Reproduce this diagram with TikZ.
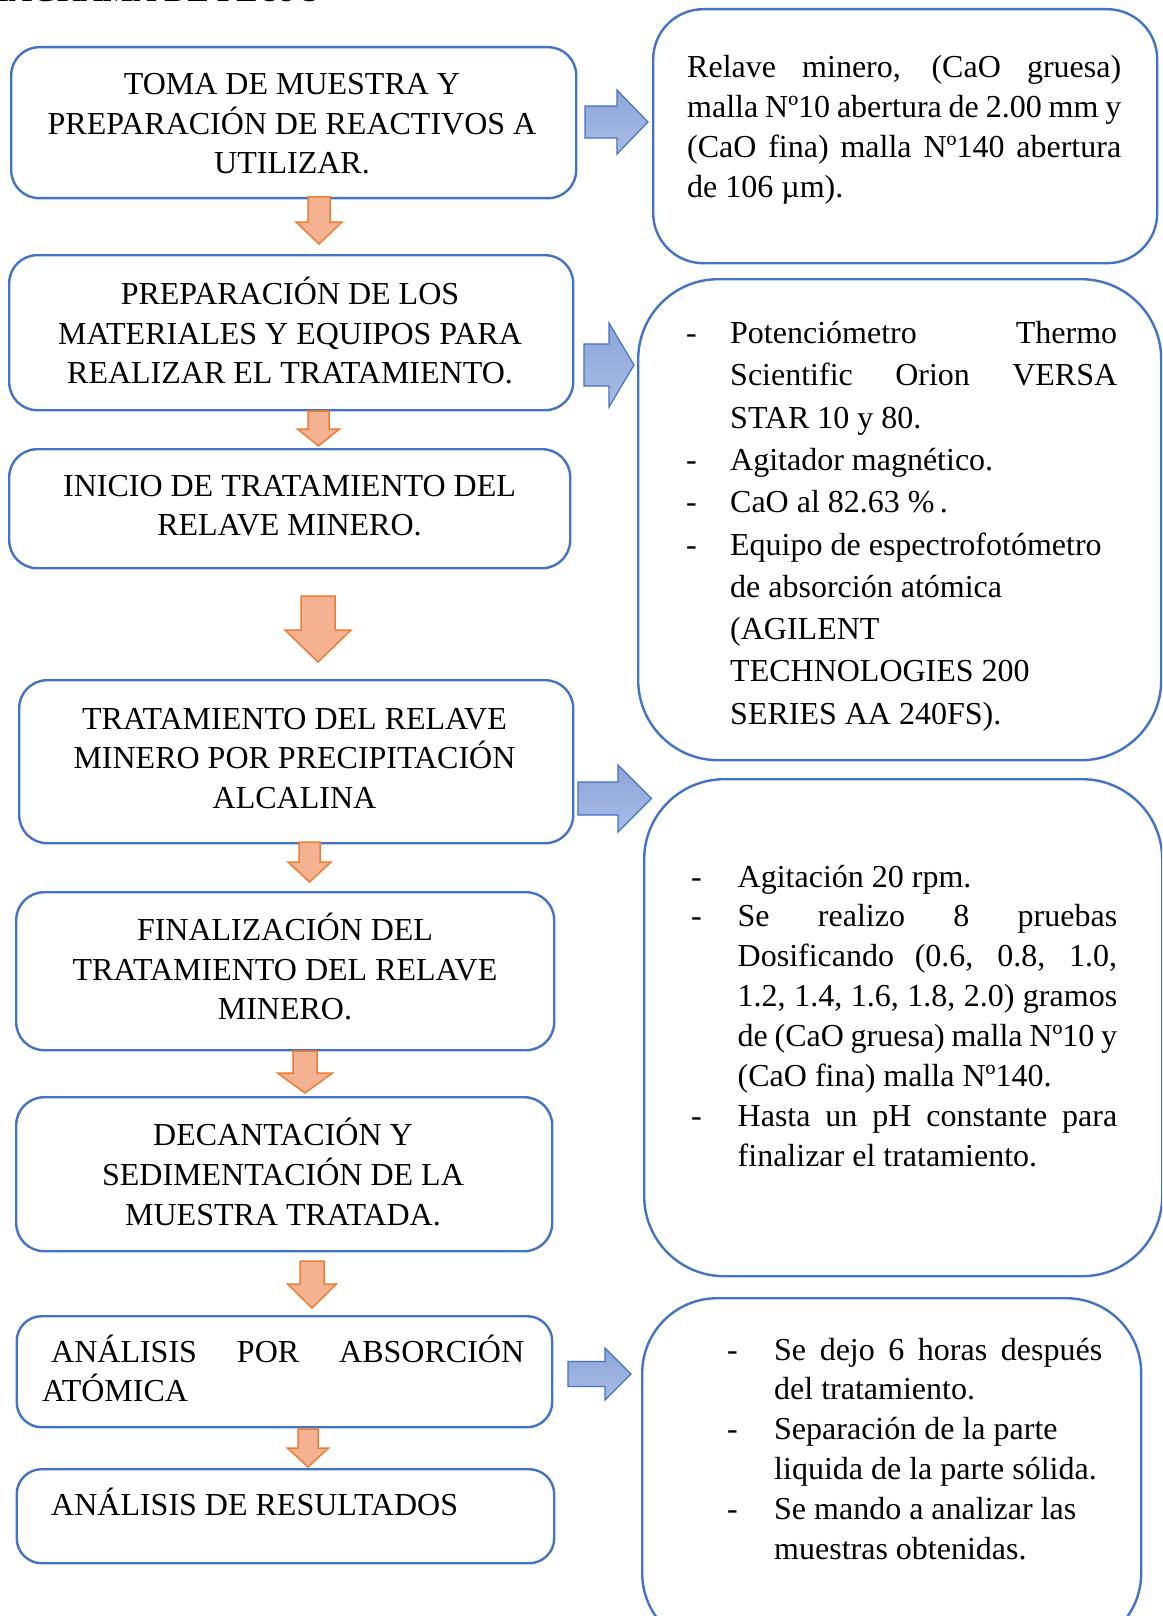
\documentclass[tikz,border=0pt]{standalone}
\usepackage{fontspec}
\setmainfont{Liberation Serif}
\definecolor{bblue}{HTML}{4472C4}
\definecolor{ofill}{HTML}{F4B293}
\definecolor{oline}{HTML}{ED7D31}
\definecolor{bfilla}{HTML}{8DA5D9}
\definecolor{bfillb}{HTML}{A8BCE5}
\newlength\tw \setlength\tw{560pt}
\newlength\bw
\newlength\jw
\newcommand\ctr[1]{\hbox to\tw{\hfil#1\hfil}}
\newcommand\bj[1]{\hbox{\hbox to\bw{-\hfil}\makebox[\jw][s]{#1}}}
\newcommand\bn[1]{\hbox{\hbox to\bw{-\hfil}#1}}
\newcommand\cj[1]{\hbox{\hskip\bw\makebox[\jw][s]{#1}}}
\newcommand\cn[1]{\hbox{\hskip\bw #1}}
\newcommand\orarrow[6]{\draw[oarr] ({#1-#2},#4) -- ({#1+#2},#4) -- ({#1+#2},#5) -- ({#1+#3},#5) -- (#1,#6) -- ({#1-#3},#5) -- ({#1-#2},#5) -- cycle;}
\newcommand\blarrow[6]{\draw[barr] (#4,{#1-#2}) -- (#5,{#1-#2}) -- (#5,{#1-#3}) -- (#6,#1) -- (#5,{#1+#3}) -- (#5,{#1+#2}) -- (#4,{#1+#2}) -- cycle;}
\begin{document}
\begin{tikzpicture}[x=1pt,y=-1pt,
  box/.style={draw=bblue, line width=2.4pt, fill=white, rounded corners=#1, inner sep=0pt, anchor=north west},
  box/.default=28pt,
  txt/.style={inner sep=0pt, font=\fontsize{32}{39}\selectfont},
  oarr/.style={draw=oline, line width=1.5pt, fill=ofill, line join=miter},
  barr/.style={draw=bblue, line width=1.2pt, top color=bfilla, bottom color=bfillb, line join=miter}]
\useasboundingbox (0,0) rectangle (1162,1616);
\clip (0,0) rectangle (1162,1616);
\fill[white] (0,0) rectangle (1162,1616);
% title (cut off at the top)
\node[txt, anchor=base east, font=\fontsize{32}{39}\selectfont\bfseries] (title) at (322,2) {DIAGRAMA DE FLUJO};
% left boxes
\node[box, minimum width=565pt, minimum height=151pt] (b1) at (10,46) {};
\node[box, minimum width=564pt, minimum height=155pt] (b2) at (8,254) {};
\node[box, minimum width=561pt, minimum height=119pt] (b3) at (8,448) {};
\node[box, minimum width=554pt, minimum height=163pt] (b4) at (18,679) {};
\node[box, minimum width=538pt, minimum height=158pt] (b5) at (15,891) {};
\node[box, minimum width=536pt, minimum height=154pt] (b6) at (15,1096) {};
\node[box=25pt, minimum width=535.5pt, minimum height=111pt] (b7) at (15.5,1315) {};
\node[box=25pt, minimum width=537.5pt, minimum height=94pt] (b8) at (15.5,1468) {};
% right boxes
\node[box=50pt, minimum width=504pt, minimum height=254pt] (r1) at (652,8) {};
\node[box=80pt, minimum width=523pt, minimum height=481pt] (r2) at (637,278) {};
\node[box=80pt, minimum width=518pt, minimum height=497pt] (r3) at (643,778) {};
\node[box=75pt, minimum width=499pt, minimum height=350pt] (r4) at (641,1297) {};
% left texts
\node[txt, anchor=base] (t1) at (292,95) {\vtop{\baselineskip=39.3pt \ctr{TOMA DE MUESTRA Y}\ctr{PREPARACIÓN DE REACTIVOS A}\ctr{UTILIZAR.}}};
\node[txt, anchor=base] (t2) at (290,304.5) {\vtop{\baselineskip=39.5pt \ctr{PREPARACIÓN DE LOS}\ctr{MATERIALES Y EQUIPOS PARA}\ctr{REALIZAR EL TRATAMIENTO.}}};
\node[txt, anchor=base] (t3) at (289.5,496.5) {\vtop{\baselineskip=39pt \ctr{INICIO DE TRATAMIENTO DEL}\ctr{RELAVE MINERO.}}};
\node[txt, anchor=base] (t4) at (294.5,729) {\vtop{\baselineskip=39.5pt \ctr{TRATAMIENTO DEL RELAVE}\ctr{MINERO POR PRECIPITACIÓN}\ctr{ALCALINA}}};
\node[txt, anchor=base] (t5) at (285,940.5) {\vtop{\baselineskip=39.5pt \ctr{FINALIZACIÓN DEL}\ctr{TRATAMIENTO DEL RELAVE}\ctr{MINERO.}}};
\node[txt, anchor=base] (t6) at (283,1145) {\vtop{\baselineskip=40pt \ctr{DECANTACIÓN Y}\ctr{SEDIMENTACIÓN DE LA}\ctr{MUESTRA TRATADA.}}};
\node[txt, anchor=base west] (t7) at (42,1362) {\vtop{\baselineskip=39pt \hbox{\hskip9pt\makebox[473pt][s]{ANÁLISIS POR ABSORCIÓN}}\hbox{ATÓMICA}}};
\node[txt, anchor=base west] (t8) at (51,1515) {ANÁLISIS DE RESULTADOS};
% right texts
\node[txt, anchor=base west] (r1t) at (687,78) {\vtop{\baselineskip=39.7pt \bw=0pt \jw=434pt
 \cj{Relave minero, (CaO gruesa)}
 \cj{malla Nº10 abertura de 2.00 mm y}
 \cj{(CaO fina) malla Nº140 abertura}
 \cn{de 106 µm).}}};
\node[txt, anchor=base west] (r2t) at (686,343.5) {\vtop{\baselineskip=42.3pt \bw=44pt \jw=387pt
 \bj{Potenciómetro Thermo}
 \cj{Scientific Orion VERSA}
 \cn{STAR 10 y 80.}
 \bn{Agitador magnético.}
 \bn{CaO al 82.63 \%\,.}
 \bn{Equipo de espectrofotómetro}
 \cn{de absorción atómica}
 \cn{(AGILENT}
 \cn{TECHNOLOGIES 200}
 \cn{SERIES AA 240FS).}}};
\node[txt, anchor=base west] (r3t) at (691,887) {\vtop{\baselineskip=39.9pt \bw=46.5pt \jw=379.5pt
 \bn{Agitación 20 rpm.}
 \bj{Se realizo 8 pruebas}
 \cj{Dosificando (0.6, 0.8, 1.0,}
 \cj{1.2, 1.4, 1.6, 1.8, 2.0) gramos}
 \cj{de (CaO gruesa) malla Nº10 y}
 \cn{(CaO fina) malla Nº140.}
 \bj{Hasta un pH constante para}
 \cn{finalizar el tratamiento.}}};
\node[txt, anchor=base west] (r4t) at (727,1360) {\vtop{\baselineskip=39.9pt \bw=47pt \jw=328pt
 \bj{Se dejo 6 horas después}
 \cn{del tratamiento.}
 \bn{Separación de la parte}
 \cn{liquida de la parte sólida.}
 \bn{Se mando a analizar las}
 \cn{muestras obtenidas.}}};
% orange down arrows
\orarrow{319}{11}{23}{197}{222}{244}
\orarrow{318.5}{10.5}{21}{411}{429}{446}
\orarrow{318}{17}{33}{596}{630}{662}
\orarrow{309.5}{10.5}{21.5}{842}{862}{882}
\orarrow{305}{12}{27.5}{1051}{1073}{1093}
\orarrow{312}{12}{24.5}{1261}{1284}{1308}
\orarrow{308}{10}{20.5}{1429}{1448}{1467}
% blue right arrows
\blarrow{122}{16}{32}{585}{617}{648}
\blarrow{365}{21}{42}{584}{609}{634}
\blarrow{798.5}{16.5}{33.5}{578}{618}{651.5}
\blarrow{1374}{12.5}{26}{568}{605}{631}
\end{tikzpicture}
\end{document}
